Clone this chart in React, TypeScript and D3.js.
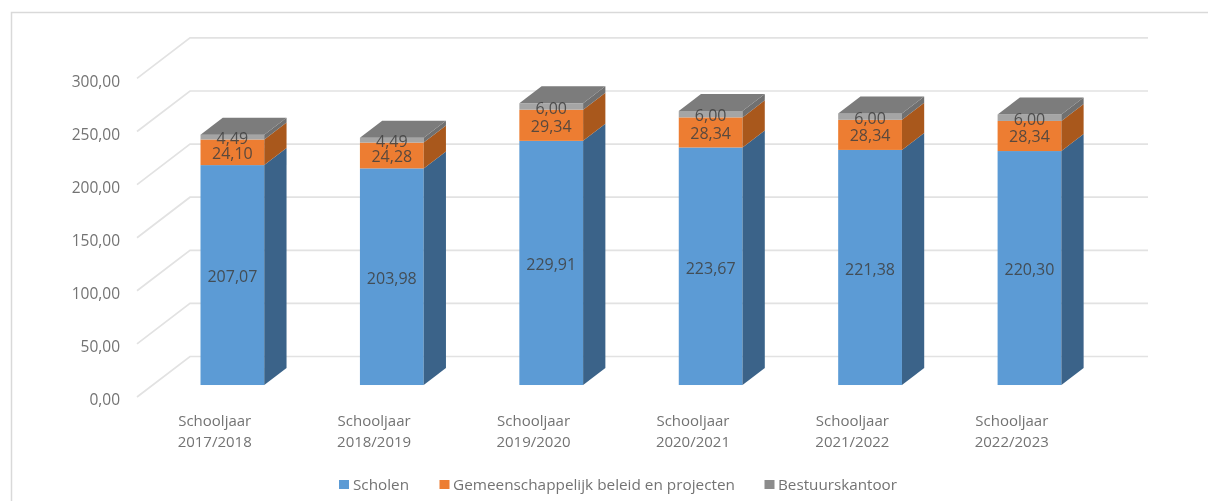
import React from "react";
import * as d3 from "d3";

const categories = ["2017/2018", "2018/2019", "2019/2020", "2020/2021", "2021/2022", "2022/2023"];
const scholen = [207.07, 203.98, 229.91, 223.67, 221.38, 220.3];
const gemeenschappelijk = [24.1, 24.28, 29.34, 28.34, 28.34, 28.34];
const bestuur = [4.49, 4.49, 6.0, 6.0, 6.0, 6.0];
const ticks = [0, 50, 100, 150, 200, 250, 300];
const seriesNames = ["Scholen", "Gemeenschappelijk beleid en projecten", "Bestuurskantoor"];
const frontColors = ["#5b9bd5", "#ed7d31", "#a5a5a5"];
const sideColors = ["#3a6389", "#a9591f", "#6f6f6f"];
const topColor = "#7b7b7b";

const FONT = "'Open Sans', 'Noto Sans', sans-serif";
const fmt = (v: number) => v.toFixed(2).replace(".", ",");

const x = d3.scaleBand<string>().domain(categories).range([137, 1093.5]).paddingInner(0.6).paddingOuter(0.3);
const y = d3.scaleLinear().domain([0, 300]).range([397, 78.4]);
const DX = 53;
const DY = -40.5;
const project = (px: number, py: number, d: number): [number, number] => [px + DX * d, py + DY * d];
const D0 = 0.296;
const D1 = 0.716;
const poly = (pts: [number, number][]) => pts.map((p) => p.join(",")).join(" ");

const series = [scholen, gemeenschappelijk, bestuur];
const stackedData = categories.map((c, i) => ({
  c,
  scholen: scholen[i],
  gem: gemeenschappelijk[i],
  best: bestuur[i],
}));
const stacked = d3.stack<any>().keys(["scholen", "gem", "best"])(stackedData);

const legendItems = [
  { sx: 339, tx: 353 },
  { sx: 439.5, tx: 453 },
  { sx: 764.5, tx: 778 },
];
const legendWidths = [56, 282, 119];

export default function App() {
  const bw = x.bandwidth();
  return (
    <svg width={1208} height={501} style={{ position: "absolute", left: 0, top: 0, background: "#fff" }} fontFamily={FONT}>
      <defs>
        <filter id="soft" x="-2%" y="-2%" width="104%" height="104%">
          <feGaussianBlur stdDeviation="0.65" />
        </filter>
      </defs>
      <g filter="url(#soft)">
        <path d="M11.5 501 V12.5 H1208" fill="none" stroke="#d9d9d9" strokeWidth={1.5} />
        {ticks.map((t) => {
          const [bx, by] = project(137, y(t), 1);
          return (
            <g key={t}>
              <polyline
                points={poly([[137, y(t)], [bx, by], [1148, by]])}
                fill="none"
                stroke="#e2e2e2"
                strokeWidth={1.7}
              />
              <text x={120} y={y(t) + 4} textAnchor="end" dominantBaseline="middle" fontSize={15.5} fill="#737373">
                {fmt(t)}
              </text>
            </g>
          );
        })}
        {categories.map((c, i) => {
          const left = x(c) as number;
          const [fx] = project(left, 0, D0);
          const fr = fx + bw;
          const [bxr] = project(left + bw, 0, D1);
          const cx = left + bw / 2 - 2;
          const yd = (v: number, d: number) => y(v) + DY * d;
          const topVal = stacked[2][i][1];
          return (
            <g key={c}>
              {stacked.map((s, k) => {
                const v0 = s[i][0];
                const v1 = s[i][1];
                return (
                  <g key={k}>
                    <rect x={fx} y={yd(v1, D0)} width={bw} height={yd(v0, D0) - yd(v1, D0)} fill={frontColors[k]} />
                    <polygon
                      points={poly([
                        [fr, yd(v0, D0)],
                        [bxr, yd(v0, D1)],
                        [bxr, yd(v1, D1)],
                        [fr, yd(v1, D0)],
                      ])}
                      fill={sideColors[k]}
                    />
                  </g>
                );
              })}
              <polygon
                points={poly([
                  [fx, yd(topVal, D0)],
                  [fr, yd(topVal, D0)],
                  [bxr, yd(topVal, D1)],
                  [bxr - bw, yd(topVal, D1)],
                ])}
                fill={topColor}
              />
              {stacked.map((s, k) => (
                <text
                  key={k}
                  x={fx + bw / 2}
                  y={yd((s[i][0] + s[i][1]) / 2, D0) + (k === 1 ? 2 : 3)}
                  textAnchor="middle"
                  dominantBaseline="middle"
                  fontSize={16}
                  fill="#404040"
                  fillOpacity={0.85}
                >
                  {fmt(series[k][i])}
                </text>
              ))}
              <text x={cx} y={422} textAnchor="middle" dominantBaseline="middle" fontSize={15} fill="#737373">
                Schooljaar
              </text>
              <text x={cx} y={443} textAnchor="middle" dominantBaseline="middle" fontSize={15} fill="#737373">
                {c}
              </text>
            </g>
          );
        })}
        {seriesNames.map((n, k) => (
          <g key={n}>
            <rect x={legendItems[k].sx} y={480} width={10} height={9} fill={frontColors[k] === "#a5a5a5" ? "#8c8c8c" : frontColors[k]} />
            <text
              x={legendItems[k].tx}
              y={486}
              dominantBaseline="middle"
              fontSize={14}
              fill="#737373"
              textLength={legendWidths[k]}
              lengthAdjust="spacingAndGlyphs"
            >
              {n}
            </text>
          </g>
        ))}
      </g>
    </svg>
  );
}
